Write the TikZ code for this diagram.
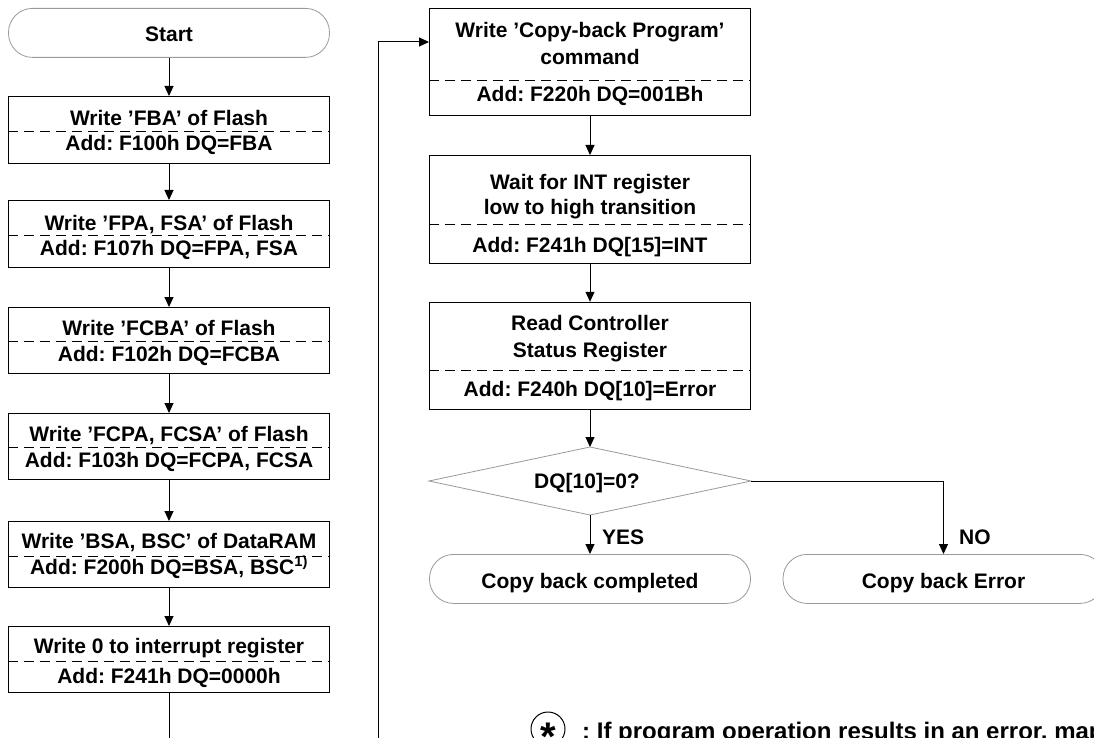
\documentclass[tikz,border=0pt]{standalone}
\usepackage{fontspec}
\setmainfont{Liberation Sans}
\usetikzlibrary{arrows.meta}
\frenchspacing
\begin{document}
\frenchspacing
\begin{tikzpicture}[x=1pt,y=-1pt,
  every node/.style={font=\fontsize{21}{25}\selectfont\bfseries},
  box/.style={draw=black, line width=1pt, minimum width=321pt, inner sep=0pt, anchor=north},
  term/.style={draw=black!40, line width=0.8pt, rounded corners=24pt, minimum width=321pt, minimum height=49pt, inner sep=0pt, anchor=north},
  sep/.style={dash pattern=on 10pt off 6pt, line width=0.8pt},
  arr/.style={-{Triangle[length=10pt,width=9pt]}, line width=1pt},
  ln/.style={line width=1pt},
  txt/.style={inner sep=0pt, anchor=base, yshift=-7.5pt},
  lbl/.style={inner sep=0pt, anchor=base west, yshift=-7.5pt}
]
\useasboundingbox (0,0) rectangle (1094,738);
\clip (0,0) rectangle (1094,738);

% ---------- left column ----------
\node[term] (start) at (169,8) {};
\node[txt] (startt) at (169,34) {Start};

\node[box, minimum height=67pt] (b1) at (169,96) {};
\draw[sep] (b1.west |- 0,131) -- (b1.east |- 0,131);
\node[txt] (b1a) at (169,118.5) {Write 'FBA' of Flash};
\node[txt] (b1b) at (169,143.5) {Add: F100h DQ=FBA};

\node[box, minimum height=67pt] (b2) at (169,200) {};
\draw[sep] (b2.west |- 0,235) -- (b2.east |- 0,235);
\node[txt] (b2a) at (169,222.5) {Write 'FPA, FSA' of Flash};
\node[txt] (b2b) at (169,248) {Add: F107h DQ=FPA, FSA};

\node[box, minimum height=66pt] (b3) at (169,307) {};
\draw[sep] (b3.west |- 0,341) -- (b3.east |- 0,341);
\node[txt] (b3a) at (169,328.3) {Write 'FCBA' of Flash};
\node[txt] (b3b) at (169,353.7) {Add: F102h DQ=FCBA};

\node[box, minimum height=66pt] (b4) at (169,413) {};
\draw[sep] (b4.west |- 0,447) -- (b4.east |- 0,447);
\node[txt] (b4a) at (169,434) {Write 'FCPA, FCSA' of Flash};
\node[txt] (b4b) at (169,459.7) {Add: F103h DQ=FCPA, FCSA};

\node[box, minimum height=66pt] (b5) at (169,521) {};
\draw[sep] (b5.west |- 0,556) -- (b5.east |- 0,556);
\node[txt] (b5a) at (169,540.5) {Write 'BSA, BSC' of DataRAM};
\node[txt] (b5b) at (169,567) {Add: F200h DQ=BSA, BSC\textsuperscript{1)}};

\node[box, minimum height=66pt] (b6) at (169,626) {};
\draw[sep] (b6.west |- 0,661) -- (b6.east |- 0,661);
\node[txt] (b6a) at (169,645.5) {Write 0 to interrupt register};
\node[txt] (b6b) at (169,675.7) {Add: F241h DQ=0000h};

\draw[arr] (start.south) -- (b1.north);
\draw[arr] (b1.south) -- (b2.north);
\draw[arr] (b2.south) -- (b3.north);
\draw[arr] (b3.south) -- (b4.north);
\draw[arr] (b4.south) -- (b5.north);
\draw[arr] (b5.south) -- (b6.north);
\coordinate (leftend) at (169,745);
\draw[ln] (b6.south) -- (leftend);

% ---------- right column ----------
\node[box, minimum height=107pt] (r1) at (590,8) {};
\draw[sep] (r1.west |- 0,80) -- (r1.east |- 0,80);
\node[txt] (r1a) at (590,30.3) {Write 'Copy-back Program'};
\node[txt] (r1b) at (590,57) {command};
\node[txt] (r1c) at (590,94.5) {Add: F220h DQ=001Bh};

\node[box, minimum height=108pt] (r2) at (590,155) {};
\draw[sep] (r2.west |- 0,224) -- (r2.east |- 0,224);
\node[txt] (r2a) at (590,182) {Wait for INT register};
\node[txt] (r2b) at (590,207) {low to high transition};
\node[txt] (r2c) at (590,244.5) {Add: F241h DQ[15]=INT};

\node[box, minimum height=107.5pt] (r3) at (590,301.8) {};
\draw[sep] (r3.west |- 0,370.7) -- (r3.east |- 0,370.7);
\node[txt] (r3a) at (590,323.3) {Read Controller};
\node[txt] (r3b) at (590,350) {Status Register};
\node[txt] (r3c) at (590,389) {Add: F240h DQ[10]=Error};

% decision
\coordinate (dqN) at (590,447);
\coordinate (dqE) at (751,481);
\coordinate (dqS) at (590,515);
\coordinate (dqW) at (429,481);
\draw[draw=black!40, line width=0.8pt] (dqN) -- (dqE) -- (dqS) -- (dqW) -- cycle;
\node[txt] (dqt) at (587,480.5) {DQ[10]=0?};

\node[term] (done) at (590,554) {};
\node[txt] (donet) at (590,581) {Copy back completed};
\node[term] (err) at (943.5,554) {};
\node[txt] (errt) at (943.5,580.5) {Copy back Error};

\draw[arr] (r1.south) -- (r2.north);
\draw[arr] (r2.south) -- (r3.north);
\draw[arr] (r3.south) -- (dqN);
\draw[arr] (dqS) -- (done.north);
\draw[arr] (dqE) -| (err.north);
\node[lbl] (yes) at (602,536.5) {YES};
\node[lbl] (no) at (959,536.7) {NO};

% loop back
\coordinate (loopend) at (378.3,745);
\draw[arr] (loopend) |- (r1.west |- 0,42);

% footnote
\node[draw=black, line width=1pt, circle, minimum size=34pt, inner sep=0pt] (star) at (548,729) {};
\node[inner sep=0pt, anchor=north, font=\fontsize{40}{40}\selectfont\bfseries] (startxt) at (548,722.5) {*};
\node[inner sep=0pt, anchor=base west, font=\fontsize{24}{28}\selectfont\bfseries] (note) at (582,739) {: If program operation results in an error, map};
\end{tikzpicture}
\end{document}
